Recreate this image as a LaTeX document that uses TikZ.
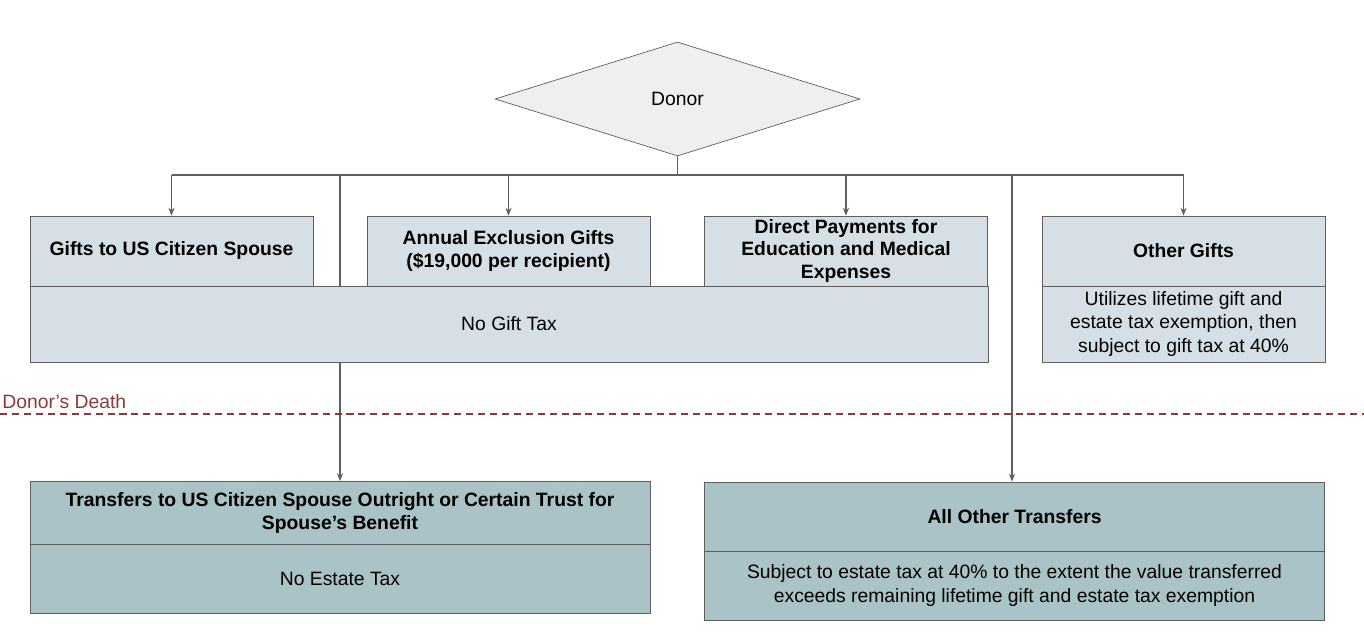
\documentclass[tikz,border=0pt]{standalone}
\usepackage{fontspec}
\setmainfont{Liberation Sans}
\usetikzlibrary{
    backgrounds,
    positioning,
    arrows.meta,
    calc,
    shapes.geometric
}
\definecolor{giftfill}{HTML}{D5DFE5}
\definecolor{estatefill}{HTML}{A9C3C7}
\definecolor{donorfill}{HTML}{EFEFEF}
\definecolor{linegray}{HTML}{5F5F5F}
\definecolor{deathred}{HTML}{8A3A3A}

\begin{document}
\begin{tikzpicture}[x=0.02cm, y=-0.02cm,
    head/.style={draw=linegray, fill=giftfill, rectangle, align=center, inner sep=0.5pt,
        minimum width=5.66cm, minimum height=1.4cm, font=\fontsize{11}{13}\selectfont\bfseries},
    taxbox/.style={head, font=\fontsize{11}{13.5}\selectfont},
    estatehead/.style={head, fill=estatefill, minimum width=12.4cm},
    estatetax/.style={taxbox, fill=estatefill, minimum width=12.4cm},
    link/.style={draw=linegray, line width=0.6pt},
    arr/.style={link, -{Stealth[length=4.5pt, width=3.5pt]}}
]
            \useasboundingbox (0,0) rectangle (1364,644);

            % Donor
            \node[diamond, draw=linegray, fill=donorfill, minimum width=7.3cm, minimum height=2.28cm,
                inner sep=0pt, font=\fontsize{11}{13}\selectfont] (donor) at (677.5,99) {Donor};

            % Lifetime gifts
            \node[head] (spouse) at (171.5,251) {Gifts to US Citizen Spouse};
            \node[head] (annual) at (508.5,251) {Annual Exclusion Gifts\\(\$19,000 per recipient)};
            \node[head] (direct) at (846,251) {Direct Payments for\\Education and Medical\\Expenses};
            \node[head] (other) at (1183.5,251) {Other Gifts};
            \node[taxbox, minimum width=19.16cm, minimum height=1.52cm] (nogift) at (509,324) {No Gift Tax};
            \node[taxbox, minimum height=1.52cm] (othertax) at (1183.5,324)
                {Utilizes lifetime gift and\\estate tax exemption, then\\subject to gift tax at 40\%};

            % Transfers at death
            \node[estatehead, minimum height=1.26cm] (spousal) at (340,513)
                {Transfers to US Citizen Spouse Outright or Certain Trust for\\Spouse's Benefit};
            \node[estatetax, minimum height=1.38cm] (noestate) at (340,578.5) {No Estate Tax};
            \node[estatehead, minimum height=1.38cm] (alltrans) at (1014.5,516.5) {All Other Transfers};
            \node[estatetax, minimum height=1.38cm] (subject) at (1014.5,585.5)
                {Subject to estate tax at 40\% to the extent the value transferred\\exceeds remaining lifetime gift and estate tax exemption};

            % Bus under the donor
            \coordinate (bus) at (677.5,175);
            \coordinate (tapL) at (340,175);
            \coordinate (tapR) at (1012,175);

            \begin{scope}[on background layer]
                \draw[link] (donor.south) -- (bus);
                \draw[link] (spouse.north |- bus) -- (other.north |- bus);
                \draw[arr] (spouse.north |- bus) -- (spouse.north);
                \draw[arr] (annual.north |- bus) -- (annual.north);
                \draw[arr] (direct.north |- bus) -- (direct.north);
                \draw[arr] (other.north |- bus) -- (other.north);
                \draw[arr] (tapL) -- (tapL |- spousal.north);
                \draw[arr] (tapR) -- (tapR |- alltrans.north);

                % Donor's death
                \draw[deathred, dash pattern=on 4pt off 2.8pt, line width=0.6pt] (0,414) -- (1364,414);
            \end{scope}
            \node[anchor=west, text=deathred, inner sep=0pt, font=\fontsize{11}{13}\selectfont] (death) at (2,402) {Donor’s Death};
          \end{tikzpicture}
\end{document}
